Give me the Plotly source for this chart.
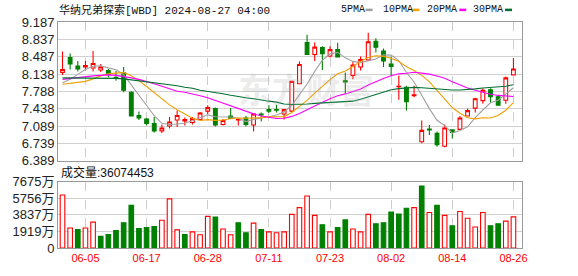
import plotly.graph_objects as go

# ---------------- data ----------------
dates = ["2024-05-31", "2024-06-03", "2024-06-04", "2024-06-05", "2024-06-06", "2024-06-07",
         "2024-06-10", "2024-06-11", "2024-06-12", "2024-06-13", "2024-06-14", "2024-06-17",
         "2024-06-18", "2024-06-20", "2024-06-21", "2024-06-24", "2024-06-25", "2024-06-26",
         "2024-06-27", "2024-06-28", "2024-07-01", "2024-07-02", "2024-07-03", "2024-07-05",
         "2024-07-08", "2024-07-09", "2024-07-10", "2024-07-11", "2024-07-12", "2024-07-15",
         "2024-07-16", "2024-07-17", "2024-07-18", "2024-07-19", "2024-07-22", "2024-07-23",
         "2024-07-24", "2024-07-25", "2024-07-26", "2024-07-29", "2024-07-30", "2024-07-31",
         "2024-08-01", "2024-08-02", "2024-08-05", "2024-08-06", "2024-08-07", "2024-08-08",
         "2024-08-09", "2024-08-12", "2024-08-13", "2024-08-14", "2024-08-15", "2024-08-16",
         "2024-08-19", "2024-08-20", "2024-08-21", "2024-08-22", "2024-08-23", "2024-08-26"]

opens = [8.17, 8.47, 8.30, 8.28, 8.26, 8.22, 8.21, 8.07, 8.16, 7.77,
         7.30, 7.23, 7.14, 6.99, 7.09, 7.21, 7.19, 7.16, 7.22, 7.39,
         7.44, 7.12, 7.29, 7.21, 7.25, 7.11, 7.33, 7.42, 7.42, 7.33,
         7.39, 7.94, 8.77, 8.53, 8.67, 8.50, 8.63, 8.00, 8.11, 8.28,
         8.42, 8.80, 8.60, 8.34, 7.88, 7.87, 7.70, 6.77, 7.03, 6.94,
         6.68, 7.01, 7.02, 7.29, 7.45, 7.60, 7.82, 7.68, 7.61, 8.12]
highs = [8.59, 8.55, 8.40, 8.40, 8.60, 8.34, 8.24, 8.20, 8.28, 7.79,
         7.38, 7.25, 7.27, 7.12, 7.27, 7.40, 7.26, 7.27, 7.37, 7.51,
         7.46, 7.23, 7.45, 7.23, 7.29, 7.35, 7.36, 7.51, 7.52, 7.43,
         8.00, 8.39, 8.93, 8.78, 8.70, 8.70, 8.77, 8.17, 8.38, 8.49,
         8.97, 8.86, 8.65, 8.49, 8.11, 7.90, 7.90, 7.20, 7.11, 6.98,
         7.12, 7.02, 7.29, 7.44, 7.66, 7.85, 7.85, 7.72, 8.09, 8.46]
lows = [8.12, 8.23, 8.19, 8.21, 8.19, 8.18, 8.07, 8.00, 7.77, 7.28,
        7.21, 7.10, 6.96, 6.95, 7.04, 7.07, 7.10, 7.12, 7.20, 7.33,
        7.08, 7.10, 7.23, 7.10, 7.08, 6.98, 7.18, 7.35, 7.36, 7.22,
        7.37, 7.94, 8.52, 8.40, 8.22, 8.47, 8.47, 7.74, 8.03, 8.21,
        8.40, 8.57, 8.28, 8.10, 7.62, 7.40, 7.67, 6.74, 6.91, 6.67,
        6.66, 6.84, 7.01, 7.28, 7.36, 7.54, 7.56, 7.50, 7.54, 8.12]
closes = [8.23, 8.34, 8.24, 8.31, 8.35, 8.28, 8.13, 8.05, 7.81, 7.29,
          7.25, 7.14, 6.99, 7.05, 7.17, 7.30, 7.22, 7.24, 7.35, 7.46,
          7.11, 7.20, 7.24, 7.22, 7.12, 7.33, 7.31, 7.39, 7.41, 7.42,
          7.99, 8.33, 8.53, 8.68, 8.55, 8.63, 8.48, 7.98, 8.32, 8.43,
          8.79, 8.68, 8.40, 8.29, 7.89, 7.58, 7.72, 7.00, 7.01, 6.71,
          7.05, 6.96, 7.25, 7.40, 7.64, 7.81, 7.68, 7.51, 8.06, 8.24]

# volume in 万 shares
volumes = [6140, 2321, 2134, 2321, 2995, 1348, 1572, 2022, 2920, 4942,
           2246, 2359, 2471, 3220, 5691, 2097, 1572, 1872, 1535, 3669,
           3594, 2209, 1535, 2920, 1760, 2883, 2134, 1872, 1760, 1872,
           3894, 4680, 6028, 3781, 2696, 1872, 2359, 3257, 2209, 1872,
           3894, 2808, 2920, 4156, 3931, 4605, 4680, 7188, 4118, 4942,
           3781, 2583, 4231, 3444, 2434, 4118, 2583, 2808, 3108, 3607.4453]

ma5_head = [7.96, 8.03, 8.13, 8.23]
ma10_head = [7.93, 7.95, 7.97, 7.99, 8.04, 8.10, 8.14, 8.16, 8.17]
ma20_head = [8.03, 8.05, 8.07, 8.09, 8.10, 8.11, 8.12, 8.11, 8.09, 8.06,
             8.03, 7.99, 7.94, 7.89, 7.84, 7.79, 7.77, 7.74, 7.70]
ma30_head = [8.06, 8.06, 8.05, 8.05, 8.05, 8.05, 8.05, 8.05, 8.04, 8.02,
             8.01, 7.99, 7.97, 7.94, 7.92, 7.90, 7.87, 7.85, 7.81, 7.79,
             7.76, 7.74, 7.71, 7.68, 7.66, 7.64, 7.61, 7.59, 7.57]

ma_names = ["5PMA", "10PMA", "20PMA", "30PMA"]
price_tick_labels = ["6.389", "6.739", "7.089", "7.438", "7.788", "8.138", "8.487", "8.837", "9.187"]
vol_tick_values = [0, 1919, 3837, 5756, 7675]
vol_tick_labels = ["0", "1919万", "3837万", "5756万", "7675万"]
label_dates = ["2024-06-05", "2024-06-17", "2024-06-28", "2024-07-11",
               "2024-07-23", "2024-08-02", "2024-08-14", "2024-08-26"]
title_text = "华纳兄弟探索[WBD] 2024-08-27 04:00"
watermark_text = "东方财富"

# ---------------- derived ----------------
def moving_average(head, n):
    out = list(head)
    for i in range(n - 1, len(closes)):
        out.append(sum(closes[i - n + 1:i + 1]) / n)
    return out

mas = [moving_average(ma5_head, 5), moving_average(ma10_head, 10),
       moving_average(ma20_head, 20), moving_average(ma30_head, 30)]
ma_colors = ["#a0a0a0", "#f0a000", "#ff00ff", "#006f30"]

RED = "#ff0000"
GREEN = "#008000"
up_vol = []
for i in range(len(closes)):
    ref = closes[i - 1] if i > 0 else opens[i]
    up_vol.append(closes[i] >= ref)
vol_fill = ["white" if u else GREEN for u in up_vol]
vol_line = [RED if u else GREEN for u in up_vol]

fig = go.Figure()
fig.add_trace(go.Candlestick(
    x=dates, open=opens, high=highs, low=lows, close=closes,
    increasing=dict(line=dict(color=RED, width=1.1), fillcolor="white"),
    decreasing=dict(line=dict(color=GREEN, width=1.1), fillcolor=GREEN),
    whiskerwidth=0, xaxis="x", yaxis="y", hoverinfo="skip"))
for name, vals, col in zip(ma_names, mas, ma_colors):
    fig.add_trace(go.Scatter(x=dates, y=vals, mode="lines", name=name,
                             line=dict(color=col, width=1.1), xaxis="x", yaxis="y",
                             hoverinfo="skip"))
fig.add_trace(go.Bar(x=dates, y=volumes, width=0.6,
                     marker=dict(color=vol_fill, line=dict(color=vol_line, width=1.1)),
                     xaxis="x2", yaxis="y2", hoverinfo="skip"))

L, R, T, B = 56, 56, 22, 21
W, H = 578, 276
pw = W - L - R
ph = H - T - B

def px_x(px):
    return (px - L) / pw

def px_y(py):
    return (H - B - py) / ph

xr = [-0.59, 60.12]
common_x = dict(type="category", range=xr, showgrid=True, gridcolor="#cccccc",
                griddash="dash", gridwidth=1, showline=True, mirror=True,
                linecolor="#999999", linewidth=1, ticks="", tickvals=label_dates,
                ticktext=[d[5:] for d in label_dates], fixedrange=True)
fig.update_layout(
    width=W, height=H, margin=dict(l=L, r=R, t=T, b=B),
    paper_bgcolor="white", plot_bgcolor="white", showlegend=False,
    font=dict(family="Liberation Sans, Noto Sans CJK SC", size=12, color="#222222"),
    xaxis=dict(common_x, anchor="y", domain=[0, 1], showticklabels=False,
               rangeslider=dict(visible=False)),
    xaxis2=dict(common_x, anchor="y2", domain=[0, 1], showticklabels=True,
                tickfont=dict(color=RED, size=11, family="Liberation Sans")),
    yaxis=dict(domain=[px_y(165), 1], range=[float(price_tick_labels[0]), float(price_tick_labels[-1])],
               tickvals=[float(t) for t in price_tick_labels], ticktext=price_tick_labels,
               showgrid=True, gridcolor="#d0d0d0", zeroline=False, showline=True, mirror=True,
               linecolor="#999999", ticks="", tickfont=dict(size=13, color="#222222")),
    yaxis2=dict(domain=[0, px_y(186.7)], range=[0, vol_tick_values[-1]],
                tickvals=vol_tick_values, ticktext=vol_tick_labels,
                showgrid=True, gridcolor="#d0d0d0", zeroline=False, showline=True, mirror=True,
                linecolor="#999999", ticks="", tickfont=dict(size=13, color="#222222")),
)

ann = []
ann.append(dict(text=watermark_text, xref="paper", yref="paper", x=px_x(305), y=px_y(91),
                showarrow=False, xanchor="center", yanchor="middle",
                font=dict(family="Noto Sans CJK SC", size=34, color="rgba(170,170,170,0.22)", weight="bold")))
ann.append(dict(text=title_text, xref="paper", yref="paper", x=px_x(55), y=px_y(9.5),
                showarrow=False, xanchor="left", yanchor="middle",
                font=dict(family="Liberation Mono, Noto Sans CJK SC", size=11, color="#111111")))
leg_x = [338, 380, 425, 471]
dash_x = [365, 412, 459, 505]
shapes = []
for name, col, lx, dx in zip(ma_names, ma_colors, leg_x, dash_x):
    ann.append(dict(text=name, xref="paper", yref="paper", x=px_x(lx), y=px_y(9.5),
                    showarrow=False, xanchor="left", yanchor="middle",
                    font=dict(family="Liberation Mono", size=10, color="#111111")))
    shapes.append(dict(type="line", xref="paper", yref="paper", x0=px_x(dx), x1=px_x(dx + 7),
                       y0=px_y(9.5), y1=px_y(9.5), line=dict(color=col, width=2.5)))
ann.append(dict(text="成交量:" + str(int(round(volumes[-1] * 10000))), xref="paper", yref="paper",
                x=px_x(57), y=px_y(177.5), showarrow=False, xanchor="left", yanchor="middle",
                font=dict(family="Liberation Sans, Noto Sans CJK SC", size=12, color="#111111")))
fig.update_layout(annotations=ann, shapes=shapes)

fig.write_html("out.html")
